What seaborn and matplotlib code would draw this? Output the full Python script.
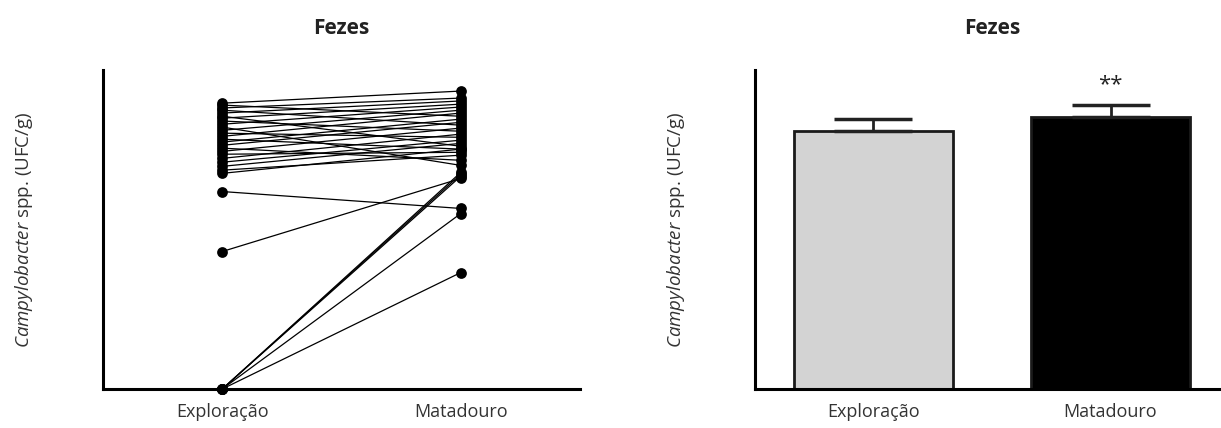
import numpy as np
import pandas as pd
import seaborn as sns
import matplotlib.pyplot as plt

# paired values per animal (arbitrary log scale)
exploracao = [8.96, 8.90, 8.81, 8.74, 8.65, 8.55, 8.49, 8.40, 8.30, 8.21,
              8.11, 8.02, 7.92, 7.83, 7.74, 7.64, 7.55, 7.45, 7.36, 7.23,
              7.11, 6.98, 6.86, 6.76, 6.19, 4.31, 0.0, 0.0, 0.0, 0.0, 0.0]
matadouro = [9.34, 8.55, 9.12, 8.27, 9.03, 7.61, 8.93, 8.08, 8.84, 7.01,
             8.74, 7.89, 8.65, 7.52, 8.46, 8.36, 7.17, 8.18, 7.42, 7.99,
             7.80, 7.70, 7.33, 7.52, 5.66, 6.60, 6.79, 6.73, 6.67, 5.50, 3.65]

groups = ["Exploração", "Matadouro"]
bar_means = [8.08, 8.52]
bar_sem = [0.38, 0.38]
bar_colors = ["#d3d3d3", "#000000"]

sns.set_style("white")
plt.rcParams["font.family"] = ["Open Sans", "DejaVu Sans"]
plt.rcParams["mathtext.fontset"] = "custom"
plt.rcParams["mathtext.it"] = "Open Sans:italic"
plt.rcParams["mathtext.rm"] = "Open Sans"

fig = plt.figure(figsize=(12.21, 4.28), dpi=100)
W, H = 1221, 428
ax1 = fig.add_axes([103 / W, 1 - 389 / H, (580 - 103) / W, (389 - 70) / H])
ax2 = fig.add_axes([755 / W, 1 - 389 / H, (1229 - 755) / W, (389 - 70) / H])

ylabel = r"$\it{Campylobacter}$ spp. (UFC/g)"

# left: paired dots
long = pd.DataFrame({
    "id": list(range(len(exploracao))) * 2,
    "grupo": [groups[0]] * len(exploracao) + [groups[1]] * len(matadouro),
    "valor": exploracao + matadouro,
})
long["pos"] = long["grupo"].map({groups[0]: 0, groups[1]: 1})
sns.lineplot(data=long, x="pos", y="valor", units="id", estimator=None,
             color="black", linewidth=0.9, ax=ax1)
sns.scatterplot(data=long, x="pos", y="valor", color="black", s=60,
                edgecolor="black", linewidth=0, ax=ax1, zorder=3, clip_on=False)

# right: bars with upward SEM
sns.barplot(x=groups, y=bar_means, hue=groups, palette=bar_colors,
            edgecolor="#1a1a1a", linewidth=2, width=0.67, legend=False, ax=ax2)
ax2.errorbar([0, 1], bar_means, yerr=[[0, 0], bar_sem], fmt="none",
             ecolor="#222222", elinewidth=2, capsize=28, capthick=2.5, zorder=5)
ax2.text(1, bar_means[1] + bar_sem[1] + 0.3, "**", ha="center", va="bottom",
         fontsize=16, color="#222222")

for ax in (ax1, ax2):
    ax.set_xlim(-0.5, 1.5)
    ax.set_ylim(0, 10)
    ax.set_xticks([0, 1])
    ax.set_xticklabels(groups, fontsize=13)
    ax.set_yticks([])
    ax.set_xlabel("")
    ax.set_ylabel(ylabel, fontsize=13.5, labelpad=49, color="#333333")
    ax.set_title("Fezes", fontsize=15, fontweight="bold", pad=26,
                 color="#222222")
    for s in ("top", "right"):
        ax.spines[s].set_visible(False)
    for s in ("left", "bottom"):
        ax.spines[s].set_linewidth(2.2)
        ax.spines[s].set_color("black")
    ax.tick_params(axis="x", direction="out", length=5, width=1.2,
                   color="black", pad=5, labelcolor="#333333")

fig.savefig("out.png", dpi=100)
